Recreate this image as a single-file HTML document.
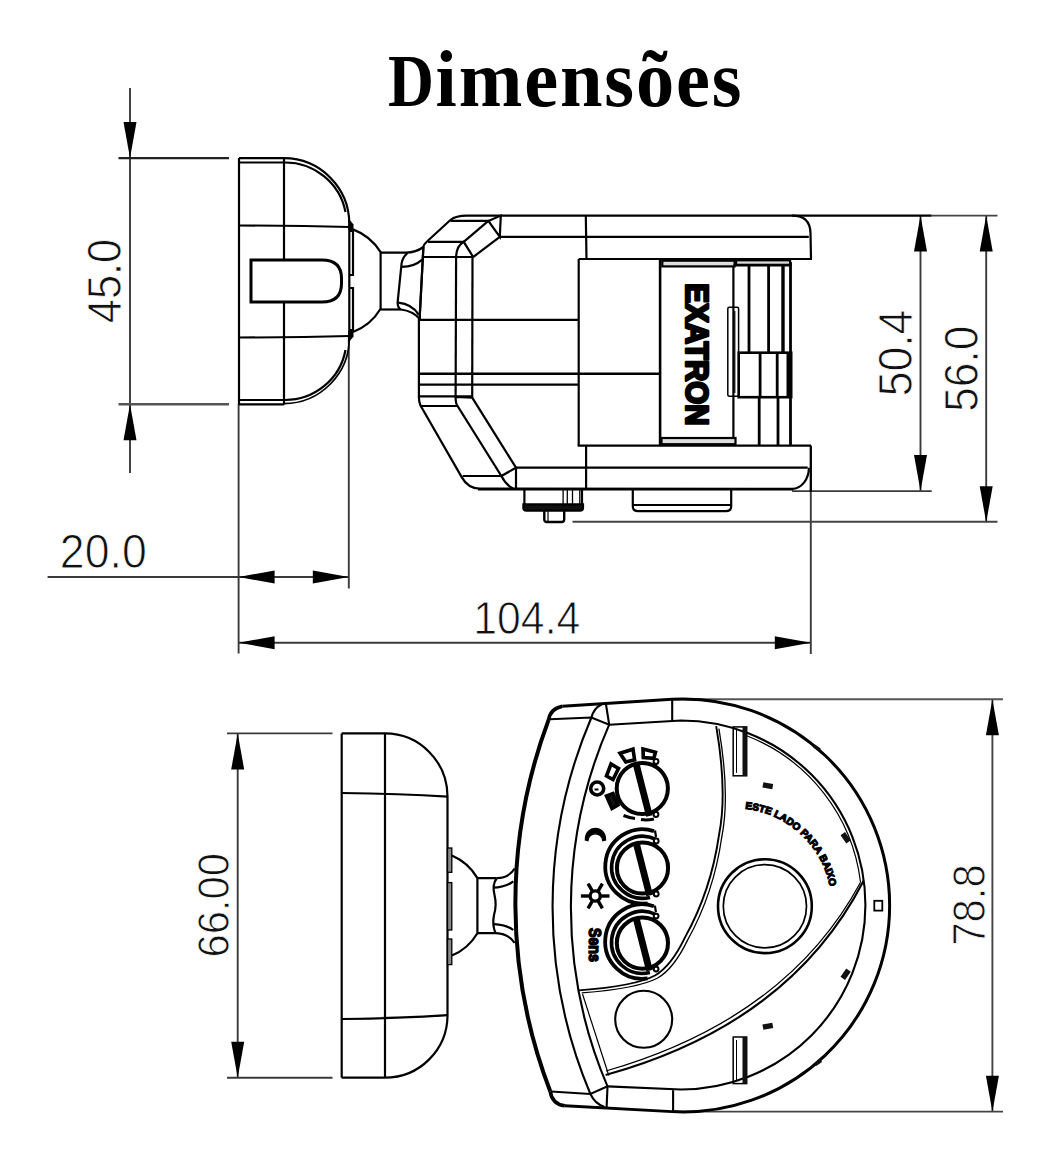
<!DOCTYPE html>
<html><head><meta charset="utf-8"><style>
html,body{margin:0;padding:0;background:#fff;}
body{width:1052px;height:1170px;overflow:hidden;}
svg{display:block;}
.title{font-family:"Liberation Serif",serif;font-weight:bold;font-size:74px;letter-spacing:1.8px;fill:#000;}
.dim{font-family:"Liberation Sans",sans-serif;font-size:46px;fill:#111;stroke:#fff;stroke-width:0.9px;}
.logo{font-family:"Liberation Sans",sans-serif;font-weight:bold;font-size:31.5px;fill:#000;stroke:#000;stroke-width:2.6px;stroke-linejoin:round;}
.sens{font-family:"Liberation Sans",sans-serif;font-weight:bold;font-size:16px;fill:#000;stroke:#000;stroke-width:1.5px;}
.arct{font-family:"Liberation Sans",sans-serif;font-weight:bold;font-size:10px;fill:#000;stroke:#000;stroke-width:1.1px;}
</style></head><body>
<svg width="1052" height="1170" viewBox="0 0 1052 1170" stroke-linecap="butt">
<rect width="1052" height="1170" fill="#fff"/>
<text class="title" transform="translate(388 106.2) scale(0.86 1)">D</text>
<text class="title" transform="translate(435.6 106.2) scale(1.033 1.1)">imensões</text>
<g id="dims" stroke="#3a3a3a" stroke-width="1.9" fill="none">
<line x1="130.0" y1="88.0" x2="130.0" y2="473.0"/>
<line x1="118.5" y1="158.2" x2="229.0" y2="158.2" stroke-width="2.2" stroke="#222"/>
<line x1="118.5" y1="404.3" x2="229.0" y2="404.3" stroke-width="2.4" stroke="#555"/>
<line x1="238.6" y1="404.0" x2="238.6" y2="653.5"/>
<line x1="348.8" y1="337.0" x2="348.8" y2="588.5"/>
<line x1="810.8" y1="489.0" x2="810.8" y2="654.0"/>
<line x1="47.6" y1="577.0" x2="348.8" y2="577.0"/>
<line x1="238.6" y1="642.7" x2="810.8" y2="642.7"/>
<line x1="920.5" y1="215.4" x2="920.5" y2="491.1"/>
<line x1="986.2" y1="215.4" x2="986.2" y2="522.2"/>
<line x1="792.0" y1="215.6" x2="931.7" y2="215.6" stroke-width="2.3" stroke="#000"/>
<line x1="931.7" y1="215.6" x2="997.5" y2="215.6" stroke="#444"/>
<line x1="792.0" y1="491.1" x2="931.7" y2="491.1"/>
<line x1="572.5" y1="521.8" x2="997.5" y2="521.8" stroke="#444"/>
<line x1="237.7" y1="733.4" x2="237.7" y2="1077.7"/>
<line x1="227.0" y1="733.4" x2="332.5" y2="733.4"/>
<line x1="227.0" y1="1077.7" x2="332.5" y2="1077.7"/>
<line x1="992.4" y1="699.2" x2="992.4" y2="1111.7" stroke="#444"/>
<line x1="672.0" y1="699.2" x2="1003.0" y2="699.2" stroke="#555"/>
<line x1="672.0" y1="1111.6" x2="1003.0" y2="1111.6" stroke="#444"/>
</g>
<g id="arrows">
<polygon points="130.0,158.0 123.5,122.0 136.5,122.0" fill="#000"/>
<polygon points="130.0,404.3 123.5,440.3 136.5,440.3" fill="#000"/>
<polygon points="238.6,577.0 274.6,570.5 274.6,583.5" fill="#000"/>
<polygon points="348.8,577.0 312.8,570.5 312.8,583.5" fill="#000"/>
<polygon points="238.6,642.7 274.6,636.2 274.6,649.2" fill="#000"/>
<polygon points="810.8,642.7 774.8,636.2 774.8,649.2" fill="#000"/>
<polygon points="920.5,215.4 914.0,251.4 927.0,251.4" fill="#000"/>
<polygon points="920.5,491.1 914.0,455.1 927.0,455.1" fill="#000"/>
<polygon points="986.2,215.4 979.7,251.4 992.7,251.4" fill="#000"/>
<polygon points="986.2,522.2 979.7,486.2 992.7,486.2" fill="#000"/>
<polygon points="237.7,733.4 231.2,769.4 244.2,769.4" fill="#000"/>
<polygon points="237.7,1077.7 231.2,1041.7 244.2,1041.7" fill="#000"/>
<polygon points="992.4,699.2 985.9,735.2 998.9,735.2" fill="#000"/>
<polygon points="992.4,1111.7 985.9,1075.7 998.9,1075.7" fill="#000"/>
</g>
<g id="dimtext">
<text class="dim" style="font-size:49.0px" transform="translate(104.4 281.0) rotate(-90) scale(0.885 1)" text-anchor="middle" dominant-baseline="central">45.0</text>
<text class="dim" style="font-size:47.3px" transform="translate(103.3 552.0) scale(0.944 1)" text-anchor="middle" dominant-baseline="central">20.0</text>
<text class="dim" style="font-size:46.0px" transform="translate(526.8 618.2) scale(0.929 1)" text-anchor="middle" dominant-baseline="central">104.4</text>
<text class="dim" style="font-size:48.3px" transform="translate(895.4 353.0) rotate(-90) scale(0.923 1)" text-anchor="middle" dominant-baseline="central">50.4</text>
<text class="dim" style="font-size:48.4px" transform="translate(961.0 368.7) rotate(-90) scale(0.914 1)" text-anchor="middle" dominant-baseline="central">56.0</text>
<text class="dim" style="font-size:45.0px" transform="translate(213.9 905.3) rotate(-90) scale(0.928 1)" text-anchor="middle" dominant-baseline="central">66.00</text>
<text class="dim" style="font-size:46.5px" transform="translate(968.2 905.0) rotate(-90) scale(0.897 1)" text-anchor="middle" dominant-baseline="central">78.8</text>
</g>
<g id="cap1" stroke="#000" stroke-width="2.2" fill="none">
<line x1="239.0" y1="158.0" x2="239.0" y2="404.5"/>
<line x1="239.0" y1="158.2" x2="284.0" y2="158.2"/>
<line x1="239.0" y1="162.5" x2="284.0" y2="162.5"/>
<line x1="239.0" y1="400.0" x2="284.0" y2="400.0"/>
<line x1="239.0" y1="404.3" x2="284.0" y2="404.3"/>
<line x1="284.0" y1="158.0" x2="284.0" y2="260.0"/>
<line x1="284.0" y1="302.0" x2="284.0" y2="404.5"/>
<path d="M284,158.2 A65.6,65.6 0 0 1 349.3,223.6"/>
<path d="M284,162.5 A61.5,61 0 0 1 345.5,212"/>
<path d="M349.3,337 A65.8,65.8 0 0 1 283.7,403.6" stroke-width="1.7"/>
<path d="M345.5,350 A61.5,61 0 0 1 284,400"/>
<path d="M239,225.5 Q300,225.5 349.3,227"/>
<path d="M239,337.5 Q300,337.5 349.3,336"/>
<line x1="349.3" y1="223.6" x2="349.3" y2="337.0"/>
<path d="M349.3,231 L353,231 L353,275 L349.3,275 M349.3,288 L353,288 L353,330 L349.3,330"/>
<polygon points="348.3,218 353.5,224.5 353.5,230 348.3,230" fill="#000" stroke="none"/>
<polygon points="348.3,331 353.5,331 353.5,336.5 348.3,343" fill="#000" stroke="none"/>
<path d="M251,260 L322,260 Q341.5,260 341.5,278.5 L341.5,283.5 Q341.5,302 322,302 L251,302 Z" stroke-width="3"/>
<path d="M353,229.4 A55.3,55.3 0 0 1 380.6,252.2 L380.6,308.8 A55.3,55.3 0 0 1 353,332"/>
<path d="M380.6,309.5 L400.8,309.5"/>
<path d="M380.6,252.6 L406,252.6 Q416,252.5 423.4,247"/>
<path d="M407.6,253 Q401.5,258 401.2,267 L397.6,302.6 Q397.8,308 400.8,309.5"/>
<path d="M401.2,266.8 Q414,267 422.2,259.6"/>
<line x1="423.4" y1="247.0" x2="419.6" y2="318.9"/>
<path d="M398.2,302.6 Q412,304 418.7,314.6"/>
<path d="M400.8,309.5 Q413,311 419.6,318.9"/>
</g>
<g id="body1" stroke="#000" stroke-width="2.2" fill="none">
<path d="M418.9,318.8 L418.9,397.6 Q418.9,402 420.5,405.5 L461.7,477.1 Q468,488.6 480,488.6 L792.1,488.8 A16.8,21.1 0 0 0 808.9,467.7"/>
<line x1="810.8" y1="445.6" x2="810.8" y2="492.0" stroke-width="2.3"/>
<path d="M419.6,318.9 L423.4,247 Q424,244 427,241.5 L450.4,220 Q456,215.6 466.5,215.6 L792.4,215.6 Q810,215.6 810.5,233 L811,259"/>
<line x1="450.4" y1="220.9" x2="489.4" y2="220.9"/>
<path d="M488.4,220.9 L500.8,215.6 L499.8,236.8 Z"/>
<line x1="463.7" y1="241.8" x2="488.4" y2="220.9"/>
<line x1="473.2" y1="257.0" x2="499.8" y2="236.8"/>
<line x1="499.8" y1="236.8" x2="808.8" y2="236.8"/>
<line x1="428.0" y1="241.8" x2="463.7" y2="241.8"/>
<line x1="423.8" y1="257.0" x2="473.2" y2="257.0"/>
<path d="M456.1,257 Q456.5,246 463.7,241.8 L473.2,257"/>
<line x1="456.1" y1="257.0" x2="455.6" y2="397.0"/>
<line x1="472.5" y1="257.0" x2="472.2" y2="397.6"/>
<line x1="419.0" y1="319.8" x2="578.7" y2="319.8"/>
<line x1="578.7" y1="259.0" x2="578.7" y2="445.7"/>
<line x1="578.7" y1="259.0" x2="812.0" y2="259.0"/>
<line x1="585.8" y1="215.6" x2="586.5" y2="259.0"/>
<line x1="419.0" y1="373.8" x2="660.0" y2="373.8" stroke-width="2.6"/>
<line x1="419.0" y1="384.7" x2="578.7" y2="384.7"/>
<line x1="419.0" y1="396.4" x2="472.2" y2="396.4"/>
<line x1="420.0" y1="406.0" x2="457.5" y2="406.0"/>
<path d="M455.6,397 Q455.6,404 457.5,406 L501.4,476 L516,467.7 L472.2,397.6 Z"/>
<line x1="462.7" y1="476.0" x2="501.4" y2="476.0"/>
<line x1="516.0" y1="467.7" x2="807.7" y2="467.7"/>
<line x1="516.0" y1="467.7" x2="516.0" y2="488.6"/>
<path d="M501.4,476 Q506,485 513,488.6"/>
<line x1="577.7" y1="445.7" x2="811.0" y2="445.7"/>
<line x1="478.0" y1="489.6" x2="793.0" y2="489.6" stroke-width="1.6"/>
<line x1="586.1" y1="445.7" x2="586.1" y2="488.6"/>
<line x1="660.1" y1="259.0" x2="660.1" y2="445.7" stroke-width="2.6"/>
<line x1="733.4" y1="265.0" x2="733.4" y2="445.7"/>
<rect x="662.3" y="260.7" width="72.3" height="5.7" fill="#ddd"/>
<rect x="661.5" y="438" width="74" height="6.2" fill="#ddd"/>
<rect x="736.1" y="260.3" width="54" height="4.5" fill="#ddd"/>
<line x1="733.4" y1="265.4" x2="791.5" y2="265.4"/>
<line x1="749.0" y1="265.4" x2="749.0" y2="352.7" stroke-width="2.8"/>
<line x1="768.6" y1="265.4" x2="768.6" y2="352.7" stroke-width="2.8"/>
<line x1="783.0" y1="265.4" x2="783.0" y2="352.7" stroke-width="3.4"/>
<line x1="790.5" y1="262.0" x2="790.5" y2="445.7" stroke-width="2.8"/>
<rect x="738.7" y="352.7" width="52.5" height="44.5" stroke-width="2.6"/>
<line x1="760.1" y1="352.7" x2="760.1" y2="397.2" stroke-width="2.8"/>
<line x1="777.2" y1="352.7" x2="777.2" y2="397.2" stroke-width="2.8"/>
<line x1="788.5" y1="352.7" x2="788.5" y2="397.2" stroke-width="4"/>
<line x1="759.2" y1="397.2" x2="759.2" y2="445.7" stroke-width="2.8"/>
<line x1="778.0" y1="397.2" x2="778.0" y2="445.7" stroke-width="2.8"/>
<rect x="727.8" y="307.3" width="10.8" height="89" rx="1.5" stroke-width="1.5"/>
<line x1="734.8" y1="311.0" x2="734.8" y2="393.0" stroke-width="1.2"/>
<path d="M524.4,489 L524.4,504.3 M582,489 L582,504.3"/>
<line x1="563.1" y1="489.0" x2="563.1" y2="504.3" stroke-width="1.3"/>
<line x1="567.3" y1="489.0" x2="567.3" y2="504.3" stroke-width="1.3"/>
<line x1="572.5" y1="489.0" x2="572.5" y2="504.3" stroke-width="1.3"/>
<line x1="579.8" y1="489.0" x2="579.8" y2="504.3" stroke-width="1.3"/>
<path d="M523.4,504.3 L583,504.3 L583,508 Q583,510.6 580,510.6 L526.4,510.6 Q523.4,510.6 523.4,508 Z" fill="#111"/>
<path d="M544.3,510.6 L544.3,519.5 Q544.3,522 547,522 L561.5,522 Q564.2,522 564.2,519.5 L564.2,510.6" stroke-width="2.4"/>
<line x1="548.0" y1="511.0" x2="548.0" y2="521.0" stroke-width="1.2"/>
<path d="M632.8,489 L632.8,506 Q632.8,511.2 638,511.2 L726,511.2 Q731.2,511.2 731.2,506 L731.2,489"/>
<line x1="633.0" y1="505.0" x2="731.0" y2="505.0" stroke-width="2.2"/>
</g>
<text class="logo" transform="translate(686 283.2) rotate(90) scale(0.94 1)" x="0" y="0">EXATRON</text>
<g id="cap2" stroke="#000" stroke-width="2.2" fill="none">
<line x1="341.7" y1="733.4" x2="341.7" y2="1077.7"/>
<line x1="385.0" y1="733.4" x2="385.0" y2="1077.7"/>
<path d="M341.7,733.4 L385,733.4 A62.5,63.2 0 0 1 447.5,796.6 L447.5,1015.2 A62.5,62.5 0 0 1 385,1077.7 L341.7,1077.7" stroke-width="2.2"/>
<path d="M341.7,793 Q400,793.5 447.5,796.6"/>
<path d="M341.7,1019 Q400,1018.5 447.5,1015.2"/>
<rect x="447.5" y="848.0" width="4.3" height="24.3" fill="#888" stroke-width="1.3"/>
<rect x="447.5" y="882.6" width="4.3" height="47.4" fill="#888" stroke-width="1.3"/>
<rect x="447.5" y="939.0" width="4.3" height="25.6" fill="#888" stroke-width="1.3"/>
<path d="M451.8,855.6 A54.3,54.3 0 0 1 477.4,878.1 L477.4,933.2 A54.3,54.3 0 0 1 451.8,955.6"/>
<path d="M477.4,878.1 L496.7,878.1 M477.4,933.2 L496,933.2"/>
<path d="M496.7,878.1 Q509,878 514.6,868.5 M493,887.7 Q506,887 513.3,881.3 M494,924.2 Q507,925 513.3,930 M496,933.2 Q509,934 514.6,942.8"/>
<path d="M496.5,878.5 Q492,885 494.5,895 Q497,905 494,915 Q492,925 495.5,933"/>
</g>
<g id="body2" stroke="#000" stroke-width="2.1" fill="none">
<path d="M672,699.2 L562.3,706.2" stroke-width="2.9"/>
<path d="M562.3,706.2 Q550,709 548.6,719.9" stroke-width="3.6"/>
<path d="M548.6,719.9 A523.6,523.6 0 0 0 550.2,1091.2" stroke-width="4"/>
<path d="M550.2,1091.2 Q552,1104 564.8,1105.8" stroke-width="3.6"/>
<path d="M564.8,1105.8 L672,1111.6" stroke-width="2.9"/>
<path d="M672,699.2 A206.5,206.5 0 1 1 672,1111.6" stroke-width="3"/>
<line x1="672.2" y1="698.9" x2="672.2" y2="720.7"/>
<line x1="673.1" y1="1090.2" x2="673.1" y2="1112.0"/>
<path d="M550,719.2 L591.4,717.5 L609.2,724.7 L681,720.5 A184.5,184.5 0 0 1 681,1089.5 L607.5,1086.4 L590.4,1094 L551,1091.5"/>
<line x1="606.0" y1="704.5" x2="609.2" y2="724.7"/>
<line x1="607.5" y1="1086.4" x2="606.6" y2="1107.3"/>
<path d="M591.4,717.5 Q594,708 601.5,704.5"/>
<path d="M590.4,1094 Q595,1104 604.6,1106.9"/>
<path d="M591.4,717.5 A481.4,481.4 0 0 0 590.4,1094"/>
<path d="M609.2,724.7 A455.5,455.5 0 0 0 607.5,1086.4"/>
<path d="M716.2,726.2 C722,760 726,800 719,835 C714,870 703,905 685,937.4 C678,952 668,968 655,975.5 C640,983.5 610,988 579,990.4" stroke-width="1.9"/>
<path d="M716.2,726.2 C722,760 726,800 719,835 C714,870 703,905 685,937.4 C678,952 668,968 655,975.5 C640,983.5 610,988 579,990.4" stroke-width="1.3" transform="translate(2.7 2.5)"/>
<path d="M582.5,994 L608.8,1075.5" stroke-width="1.2"/>
<path d="M746,735.5 A180.5,180.5 0 0 1 860.5,882" stroke-width="1.2"/>
<path d="M863.6,880.8 Q790,1024 605.6,1075"/>
<path d="M860.6,882.3 Q787,1019 606,1071" stroke-width="1.3"/>
<circle cx="643.7" cy="1019.3" r="28.5"/>
<circle cx="764.9" cy="906.2" r="46.9" stroke-width="2.6"/>
<circle cx="764.9" cy="906.2" r="41.6" stroke-width="1.7"/>
<rect x="733.2" y="726.9" width="13.5" height="48.9" stroke-width="1.5"/>
<rect x="742.5" y="726.9" width="4.4" height="48.9" fill="#111" stroke="none"/>
<line x1="736.5" y1="729.9" x2="736.5" y2="772.8" stroke-width="1"/>
<rect x="733.2" y="1037.0" width="13.5" height="46.6" stroke-width="1.5"/>
<rect x="742.5" y="1037.0" width="4.4" height="46.6" fill="#111" stroke="none"/>
<line x1="736.5" y1="1040.0" x2="736.5" y2="1080.6" stroke-width="1"/>
<rect x="762.8" y="783.0" width="10.0" height="5.5" fill="#111" stroke="none" transform="rotate(10 767.8 785.8)"/>
<rect x="840.7" y="835.0" width="10.0" height="5.5" fill="#111" stroke="none" transform="rotate(55 845.7 837.7)"/>
<rect x="840.7" y="971.5" width="10.0" height="5.5" fill="#111" stroke="none" transform="rotate(-55 845.7 974.3)"/>
<rect x="762.8" y="1023.5" width="10.0" height="5.5" fill="#111" stroke="none" transform="rotate(-10 767.8 1026.2)"/>
<rect x="813.3" y="746.1" width="7.0" height="3.5" fill="#111" stroke="none" transform="rotate(35 816.8 747.9)"/>
<rect x="814.7" y="1060.8" width="7.0" height="3.5" fill="#111" stroke="none" transform="rotate(-35 818.2 1062.6)"/>
<rect x="874.3" y="900.8" width="8" height="9.8" stroke-width="1.8"/>
</g>
<g stroke="#000" fill="none">
<circle cx="642.3" cy="788.5" r="25.6" stroke-width="4"/>
<line x1="636.1" y1="763.8" x2="649.4" y2="816.0" stroke-width="6.8"/>
<circle cx="656.0" cy="761.5" r="2.4" fill="#fff" stroke-width="2"/>
<circle cx="656.0" cy="814.5" r="2.4" fill="#fff" stroke-width="2"/>
</g>
<g stroke="#000" fill="none">
<path d="M654.0,831.1 A37.2,37.2 0 1 0 647.7,903.3" stroke-width="3.8"/>
<path d="M656.1,839.4 A31.0,31.0 0 1 0 650.0,897.4" stroke-width="3.6"/>
<line x1="655.0" y1="830.5" x2="656.0" y2="837.0" stroke-width="2.2"/>
<circle cx="642.5" cy="868.0" r="25.6" stroke-width="4"/>
<line x1="636.3" y1="843.3" x2="649.6" y2="895.5" stroke-width="6.8"/>
<circle cx="656.2" cy="841.0" r="2.4" fill="#fff" stroke-width="2"/>
<circle cx="656.2" cy="894.0" r="2.4" fill="#fff" stroke-width="2"/>
</g>
<g stroke="#000" fill="none">
<path d="M653.9,906.2 A37.2,37.2 0 1 0 647.6,978.4" stroke-width="3.8"/>
<path d="M656.0,914.5 A31.0,31.0 0 1 0 649.9,972.5" stroke-width="3.6"/>
<line x1="654.9" y1="905.6" x2="655.9" y2="912.1" stroke-width="2.2"/>
<circle cx="642.4" cy="943.1" r="25.6" stroke-width="4"/>
<line x1="636.2" y1="918.4" x2="649.5" y2="970.6" stroke-width="6.8"/>
<circle cx="656.1" cy="916.1" r="2.4" fill="#fff" stroke-width="2"/>
<circle cx="656.1" cy="969.1" r="2.4" fill="#fff" stroke-width="2"/>
</g>
<g stroke="#000" fill="none" stroke-width="3.6">
<path d="M620,753.3 L633,749.2 L634.6,759.8 L625.8,762 Z"/>
<path d="M643,749 L655.5,752.2 L653.8,758.3 L643.3,757.5 Z"/>
<path d="M606.5,776 L611,764 L618.5,768.5 L613,779.5 Z"/>
<path d="M606.5,796 L612,808.5 L618,805 L613,793.5 Z" fill="#111"/>
<circle cx="597.2" cy="788.5" r="6.5"/>
<path d="M594.5,789.5 L598.5,789.5" stroke-width="2"/>
<path d="M623.5,815.5 Q630,818 635,818.5" stroke-width="3"/>
<path d="M641,819.5 Q647,820.5 654,819" stroke-width="3"/>
</g>
<path d="M585.3,840 C585.3,824.5 605.6,824.5 605.6,840 L602.8,840.8 C602,831.5 588.5,831.5 588,840.8 Z" stroke-width="1.2" stroke="#000" fill="#000"/>
<g stroke="#000" stroke-width="3.4" fill="none">
<circle cx="595.2" cy="896" r="5.1" stroke-width="3.4"/>
<line x1="601.2" y1="896.0" x2="609.5" y2="896.0"/>
<line x1="598.2" y1="901.2" x2="602.4" y2="908.4"/>
<line x1="592.2" y1="901.2" x2="588.1" y2="908.4"/>
<line x1="589.2" y1="896.0" x2="580.9" y2="896.0"/>
<line x1="592.2" y1="890.8" x2="588.1" y2="883.6"/>
<line x1="598.2" y1="890.8" x2="602.4" y2="883.6"/>
</g>
<text class="sens" transform="translate(589.2 944.9) rotate(90) scale(0.89 1)" text-anchor="middle">Sens</text>
<path id="arcp" d="M745.1,808.9 A96.6,96.6 0 0 1 829.8,886.6" fill="none" stroke="none"/>
<text class="arct"><textPath href="#arcp" textLength="123" lengthAdjust="spacingAndGlyphs">ESTE LADO PARA BAIXO</textPath></text>
</svg>
</body></html>
